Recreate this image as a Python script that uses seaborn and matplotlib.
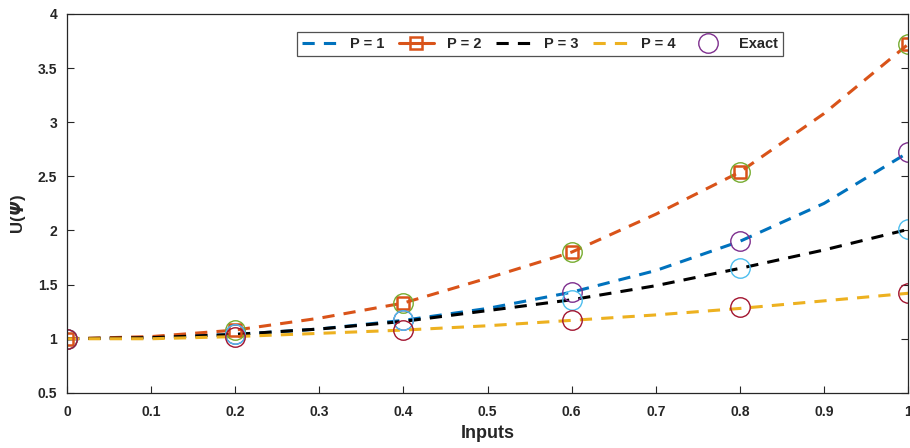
import matplotlib
matplotlib.use("Agg")
import matplotlib.pyplot as plt
import seaborn as sns
from matplotlib.lines import Line2D

x_fine = [0.0, 0.1, 0.2, 0.3, 0.4, 0.5, 0.6, 0.7, 0.8, 0.9, 1.0]
p1 = [1.00, 1.01, 1.04, 1.09, 1.17, 1.28, 1.43, 1.63, 1.90, 2.25, 2.72]
p2 = [1.00, 1.02, 1.08, 1.19, 1.33, 1.56, 1.80, 2.15, 2.54, 3.08, 3.72]
p3 = [1.00, 1.01, 1.04, 1.09, 1.16, 1.26, 1.36, 1.49, 1.65, 1.82, 2.01]
p4 = [1.00, 1.00, 1.02, 1.05, 1.08, 1.12, 1.17, 1.22, 1.28, 1.35, 1.42]

x_pts = [0.0, 0.2, 0.4, 0.6, 0.8, 1.0]
p2_pts = [1.00, 1.08, 1.33, 1.80, 2.54, 3.72]
exact1 = [1.00, 1.04, 1.17, 1.43, 1.90, 2.72]
exact2 = [1.00, 1.08, 1.33, 1.80, 2.54, 3.72]
exact3 = [1.00, 1.04, 1.17, 1.36, 1.65, 2.01]
exact4 = [1.00, 1.02, 1.08, 1.17, 1.29, 1.42]

x_ticks = [0, 0.1, 0.2, 0.3, 0.4, 0.5, 0.6, 0.7, 0.8, 0.9, 1]
x_ticklabels = ["0", "0.1", "0.2", "0.3", "0.4", "0.5", "0.6", "0.7", "0.8", "0.9", "1"]
y_ticks = [0.5, 1, 1.5, 2, 2.5, 3, 3.5, 4]
y_ticklabels = ["0.5", "1", "1.5", "2", "2.5", "3", "3.5", "4"]
legend_labels = ["P = 1", "P = 2", "P = 3", "P = 4", "Exact"]
ylabel_parts = ["U(", "Ψ", ")"]

sns.set_style("white")
plt.rcParams['font.family'] = ['Liberation Sans', 'DejaVu Sans']

c_blue, c_orange, c_yellow = "#0072BD", "#D95319", "#EDB120"
c_purple, c_green, c_cyan, c_red = "#7E2F8E", "#77AC30", "#4DBEEE", "#A2142F"

fig = plt.figure(figsize=(9.1, 4.48), dpi=100)
ax = fig.add_axes([0.0736, 0.123, 0.9244, 0.846])

lw = 2.2
dash = (4, 3)
for ys, c in [(p1, c_blue), (p2, c_orange), (p3, "black"), (p4, c_yellow)]:
    sns.lineplot(x=x_fine, y=ys, ax=ax, color=c, lw=lw, legend=False)
    ax.lines[-1].set_dashes(dash)

sns.lineplot(x=x_pts, y=p2_pts, ax=ax, color=c_orange, lw=0, marker="s",
             markersize=9, markerfacecolor="none", markeredgecolor=c_orange,
             markeredgewidth=1.8, legend=False)

ms = 14
for ys, c in [(exact2, c_green), (exact1, c_purple), (exact3, c_cyan), (exact4, c_red)]:
    sns.lineplot(x=x_pts, y=ys, ax=ax, color=c, lw=0, marker="o",
                 markersize=ms, markerfacecolor="none", markeredgecolor=c,
                 markeredgewidth=1.0, legend=False)

ax.set_xlim(0, 1)
ax.set_ylim(0.5, 4)
ax.set_xticks(x_ticks)
ax.set_xticklabels(x_ticklabels, fontweight="bold", fontsize=10)
ax.set_yticks(y_ticks)
ax.set_yticklabels(y_ticklabels, fontweight="bold", fontsize=10)
ax.tick_params(direction="in", length=5, width=0.8, colors="#262626",
               top=False, right=True, left=True, bottom=True)
ax.tick_params(axis="x", pad=9)
ax.tick_params(axis="y", pad=7)
for s in ax.spines.values():
    s.set_visible(True)
    s.set_color("#262626")
    s.set_linewidth(0.9)

ax.set_xlabel("Inputs", fontsize=13, fontweight="bold", labelpad=4)
ax.set_ylabel("")

# y label built from pieces so that Ψ can be italic
fig.canvas.draw()
renderer = fig.canvas.get_renderer()
x_lab = 18 / 910
pieces = []
heights = []
for txt, style in zip(ylabel_parts, ["normal", "italic", "normal"]):
    t = fig.text(x_lab, 0, txt, rotation=90, fontsize=12, fontweight="bold",
                 fontstyle=style, family=['DejaVu Sans'] if txt == "Ψ" else ['Liberation Sans'],
                 ha="center", va="bottom", color="#262626")
    bb = t.get_window_extent(renderer)
    pieces.append(t)
    heights.append(bb.height)
total = sum(heights)
center_px = 448 - 213
start = center_px - total / 2
y = start
for t, h in zip(pieces, heights):
    t.set_y(y / 448)
    y += h

handles = [
    Line2D([], [], color=c_blue, lw=lw, dashes=dash),
    Line2D([], [], color=c_orange, lw=lw, marker="s", markersize=9,
           markerfacecolor="none", markeredgewidth=1.8),
    Line2D([], [], color="black", lw=lw, dashes=dash),
    Line2D([], [], color=c_yellow, lw=lw, dashes=dash),
    Line2D([], [], color=c_purple, lw=0, marker="o", markersize=ms,
           markerfacecolor="none", markeredgewidth=1.0),
]
leg = ax.legend(handles, legend_labels, loc="upper left", bbox_to_anchor=(0.273, 0.952),
                ncol=5, frameon=True, fancybox=False, edgecolor="#262626",
                prop={"weight": "bold", "size": 10.5},
                handlelength=2.4, columnspacing=1.0, handletextpad=0.9,
                borderpad=0.35, borderaxespad=0)
leg.get_frame().set_linewidth(0.9)

fig.savefig("out.png", dpi=100)
